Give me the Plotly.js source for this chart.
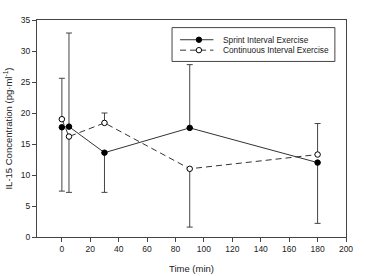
<!DOCTYPE html>
<html>
<head>
<meta charset="utf-8">
<script src="https://cdn.plot.ly/plotly-3.0.1.min.js"></script>
<style>html,body{margin:0;padding:0;background:#fff;}#chart{width:366px;height:276px;}</style>
</head>
<body>
<div id="chart"></div>
<script>
const timeMin = [0, 5, 30, 90, 180];
const sprintMean = [17.7, 17.8, 13.6, 17.6, 12.0];
const sprintErrUp = [0, 15.1, 0, 10.2, 0];
const sprintErrDown = [10.3, 0, 6.4, 0, 9.8];
const contMean = [19.0, 16.2, 18.4, 11.0, 13.3];
const contErrUp = [6.6, 0, 1.6, 0, 5.0];
const contErrDown = [0, 9.0, 0, 9.4, 0];
const xTicks = [0, 20, 40, 60, 80, 100, 120, 140, 160, 180, 200];
const yTicks = [0, 5, 10, 15, 20, 25, 30, 35];
const seriesNames = ['Sprint Interval Exercise', 'Continuous Interval Exercise'];

const fam = 'Liberation Sans, Arial, sans-serif';

const traces = [
  {
    x: timeMin, y: sprintMean, type: 'scatter', mode: 'lines+markers',
    name: seriesNames[0], showlegend: false,
    line: {color: '#333', width: 1},
    marker: {symbol: 'circle', size: 5.5, color: '#000', line: {color: '#000', width: 1}},
    error_y: {type: 'data', symmetric: false, array: sprintErrUp, arrayminus: sprintErrDown,
              color: '#444', thickness: 1, width: 3}
  },
  {
    x: timeMin, y: contMean, type: 'scatter', mode: 'lines+markers',
    name: seriesNames[1], showlegend: false,
    line: {color: '#333', width: 1, dash: '6px,4px'},
    marker: {symbol: 'circle', size: 5.5, color: '#fff', line: {color: '#000', width: 1}},
    error_y: {type: 'data', symmetric: false, array: contErrUp, arrayminus: contErrDown,
              color: '#444', thickness: 1, width: 3}
  }
];

// custom compact legend (paper coordinates)
const L = {x0: 0.437, x1: 0.964, y0: 0.809, y1: 0.965, lineX0: 0.463, lineX1: 0.571, mX: 0.524, textX: 0.597, rows: [0.909, 0.861]};
const shapes = [
  {type: 'rect', xref: 'paper', yref: 'paper', x0: L.x0, x1: L.x1, y0: L.y0, y1: L.y1,
   line: {color: '#444', width: 1}, fillcolor: 'rgba(255,255,255,0)'},
  {type: 'line', xref: 'paper', yref: 'paper', x0: L.lineX0, x1: L.lineX1, y0: L.rows[0], y1: L.rows[0],
   line: {color: '#333', width: 1}},
  {type: 'line', xref: 'paper', yref: 'paper', x0: L.lineX0, x1: L.lineX1, y0: L.rows[1], y1: L.rows[1],
   line: {color: '#333', width: 1, dash: '6px,4px'}},
  {type: 'circle', xref: 'paper', yref: 'paper', xsizemode: 'pixel', ysizemode: 'pixel',
   xanchor: L.mX, yanchor: L.rows[0], x0: -2.7, x1: 2.7, y0: -2.7, y1: 2.7,
   fillcolor: '#000', line: {color: '#000', width: 1}},
  {type: 'circle', xref: 'paper', yref: 'paper', xsizemode: 'pixel', ysizemode: 'pixel',
   xanchor: L.mX, yanchor: L.rows[1], x0: -2.7, x1: 2.7, y0: -2.7, y1: 2.7,
   fillcolor: '#fff', line: {color: '#000', width: 1}}
];
const annotations = seriesNames.map((n, i) => ({
  text: n, xref: 'paper', yref: 'paper', x: L.textX, y: L.rows[i],
  xanchor: 'left', yanchor: 'middle', showarrow: false,
  font: {family: fam, size: 8.3, color: '#222'}
}));

const layout = {
  width: 366, height: 276,
  margin: {l: 37, r: 20, t: 20, b: 39},
  paper_bgcolor: '#fff', plot_bgcolor: '#fff',
  font: {family: fam, size: 8.5, color: '#222'},
  showlegend: false,
  shapes: shapes,
  annotations: annotations,
  xaxis: {
    range: [-17.5, 200], tickvals: xTicks, ticktext: xTicks.map(String),
    showgrid: false, zeroline: false, showline: true, linecolor: '#444', linewidth: 1,
    mirror: true, ticks: 'outside', ticklen: 4, tickcolor: '#444',
    tickfont: {family: fam, size: 8.5, color: '#222'},
    title: {text: 'Time (min)', font: {family: fam, size: 9.5, color: '#222'}, standoff: 12}
  },
  yaxis: {
    range: [0, 35], tickvals: yTicks, ticktext: yTicks.map(String),
    showgrid: false, zeroline: false, showline: true, linecolor: '#444', linewidth: 1,
    mirror: true, ticks: 'outside', ticklen: 4, tickcolor: '#444',
    tickfont: {family: fam, size: 8.5, color: '#222'},
    title: {text: 'IL-15 Concentration (pg·ml<sup>-1</sup>)', font: {family: fam, size: 9.5, color: '#222'}, standoff: 6}
  }
};

Plotly.newPlot('chart', traces, layout, {displayModeBar: false, staticPlot: true});
</script>
</body>
</html>
